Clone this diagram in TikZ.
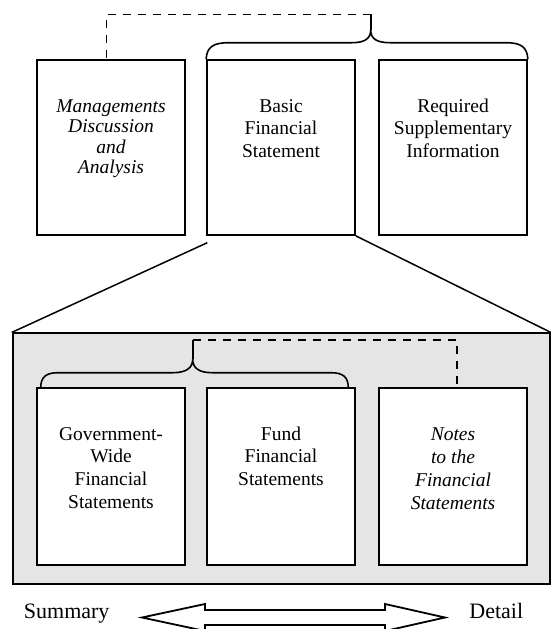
\documentclass[tikz,border=0pt]{standalone}
\usepackage{fontspec}
\setmainfont{Liberation Serif}
\begin{document}
\begin{tikzpicture}[x=1pt,y=-1pt,
  box/.style={draw,fill=white,line width=1.8pt,minimum width=148pt,minimum height=175pt,inner sep=0pt},
  lowbox/.style={box,minimum height=177pt},
  boxtext/.style={anchor=north,inner sep=0pt,align=center,font=\fontsize{19.5}{22.7}\selectfont},
  brace/.style={line width=1.6pt},
  dashline/.style={line width=1.5pt,dash pattern=on 8pt off 7pt},
  zoomline/.style={line width=1.5pt},
  endlabel/.style={anchor=base,inner sep=0pt,font=\fontsize{22}{26}\selectfont}]
\useasboundingbox (0,0) rectangle (551,629);

% top row
\node[box] (mda) at (111,147.5) {};
\node[box] (bfs) at (281,147.5) {};
\node[box] (rsi) at (453,147.5) {};
\node[boxtext,font=\fontsize{19.5}{20.5}\selectfont\itshape] (mdat) at (111,98) {\rule{0pt}{14pt}Managements\\Discussion\\and\\Analysis};
\node[boxtext] (bfst) at (281,98) {\rule{0pt}{14pt}Basic\\Financial\\Statement};
\node[boxtext] (rsit) at (453,98) {\rule{0pt}{14pt}Required\\Supplementary\\Information};

% top brace
\coordinate (btip) at (370.7,30);
\coordinate (bdash) at (370.7,14.3);
\draw[brace] (bfs.north west) .. controls (207,47) and (213,42.7) .. (229,42.7)
  -- (352,42.7) .. controls (364,42.7) and (370.7,39) .. (btip)
  .. controls (370.7,39) and (377,42.7) .. (390,42.7)
  -- (506,42.7) .. controls (521,42.7) and (527,47) .. (rsi.north east);
\draw[brace] (btip) -- (bdash);
\draw[dashline] (bdash) -| ([xshift=-4.3pt]mda.north);

% gray frame
\node[draw,fill=black!10,line width=1.8pt,minimum width=537.2pt,minimum height=250.7pt,inner sep=0pt] (frame) at (281.3,458.65) {};
\coordinate (lstart) at (207.3,242.7);
\draw[zoomline] (lstart) -- (frame.north west);
\draw[zoomline] (bfs.south east) -- (frame.north east);

% bottom row
\node[lowbox] (gov) at (111,476.5) {};
\node[lowbox] (fund) at (281,476.5) {};
\node[lowbox] (notes) at (453,476.5) {};
\node[boxtext] (govt) at (111,426) {\rule{0pt}{14pt}Government-\\Wide\\Financial\\Statements};
\node[boxtext] (fundt) at (281,426) {\rule{0pt}{14pt}Fund\\Financial\\Statements};
\node[boxtext,font=\fontsize{19.5}{23}\selectfont\itshape] (notest) at (453,426) {\rule{0pt}{14pt}Notes\\to the\\Financial\\Statements};

% inner brace
\coordinate (gl) at (40.7,388);
\coordinate (gr) at (348.3,388);
\coordinate (itip) at (192.7,359.3);
\coordinate (idash) at (192.7,340);
\draw[brace] (gl) .. controls (40.7,377) and (46,372.7) .. (58,372.7)
  -- (173,372.7) .. controls (186,372.7) and (192.7,368) .. (itip)
  .. controls (192.7,368) and (199,372.7) .. (212,372.7)
  -- (331,372.7) .. controls (343,372.7) and (348.3,377) .. (gr);
\draw[brace] (itip) -- (idash);
\draw[dashline] (idash) -| ([xshift=3.8pt]notes.north);

% summary / detail
\node[endlabel] (sum) at (66.7,618.3) {Summary};
\node[endlabel] (det) at (496.3,618.3) {Detail};
\draw[line width=1.8pt,fill=white,line join=miter]
  (142,617.5) -- (205,604) -- (205,610) -- (385,610) -- (385,604) -- (445,617.5)
  -- (385,631) -- (385,625) -- (205,625) -- (205,631) -- cycle;
\end{tikzpicture}
\end{document}
